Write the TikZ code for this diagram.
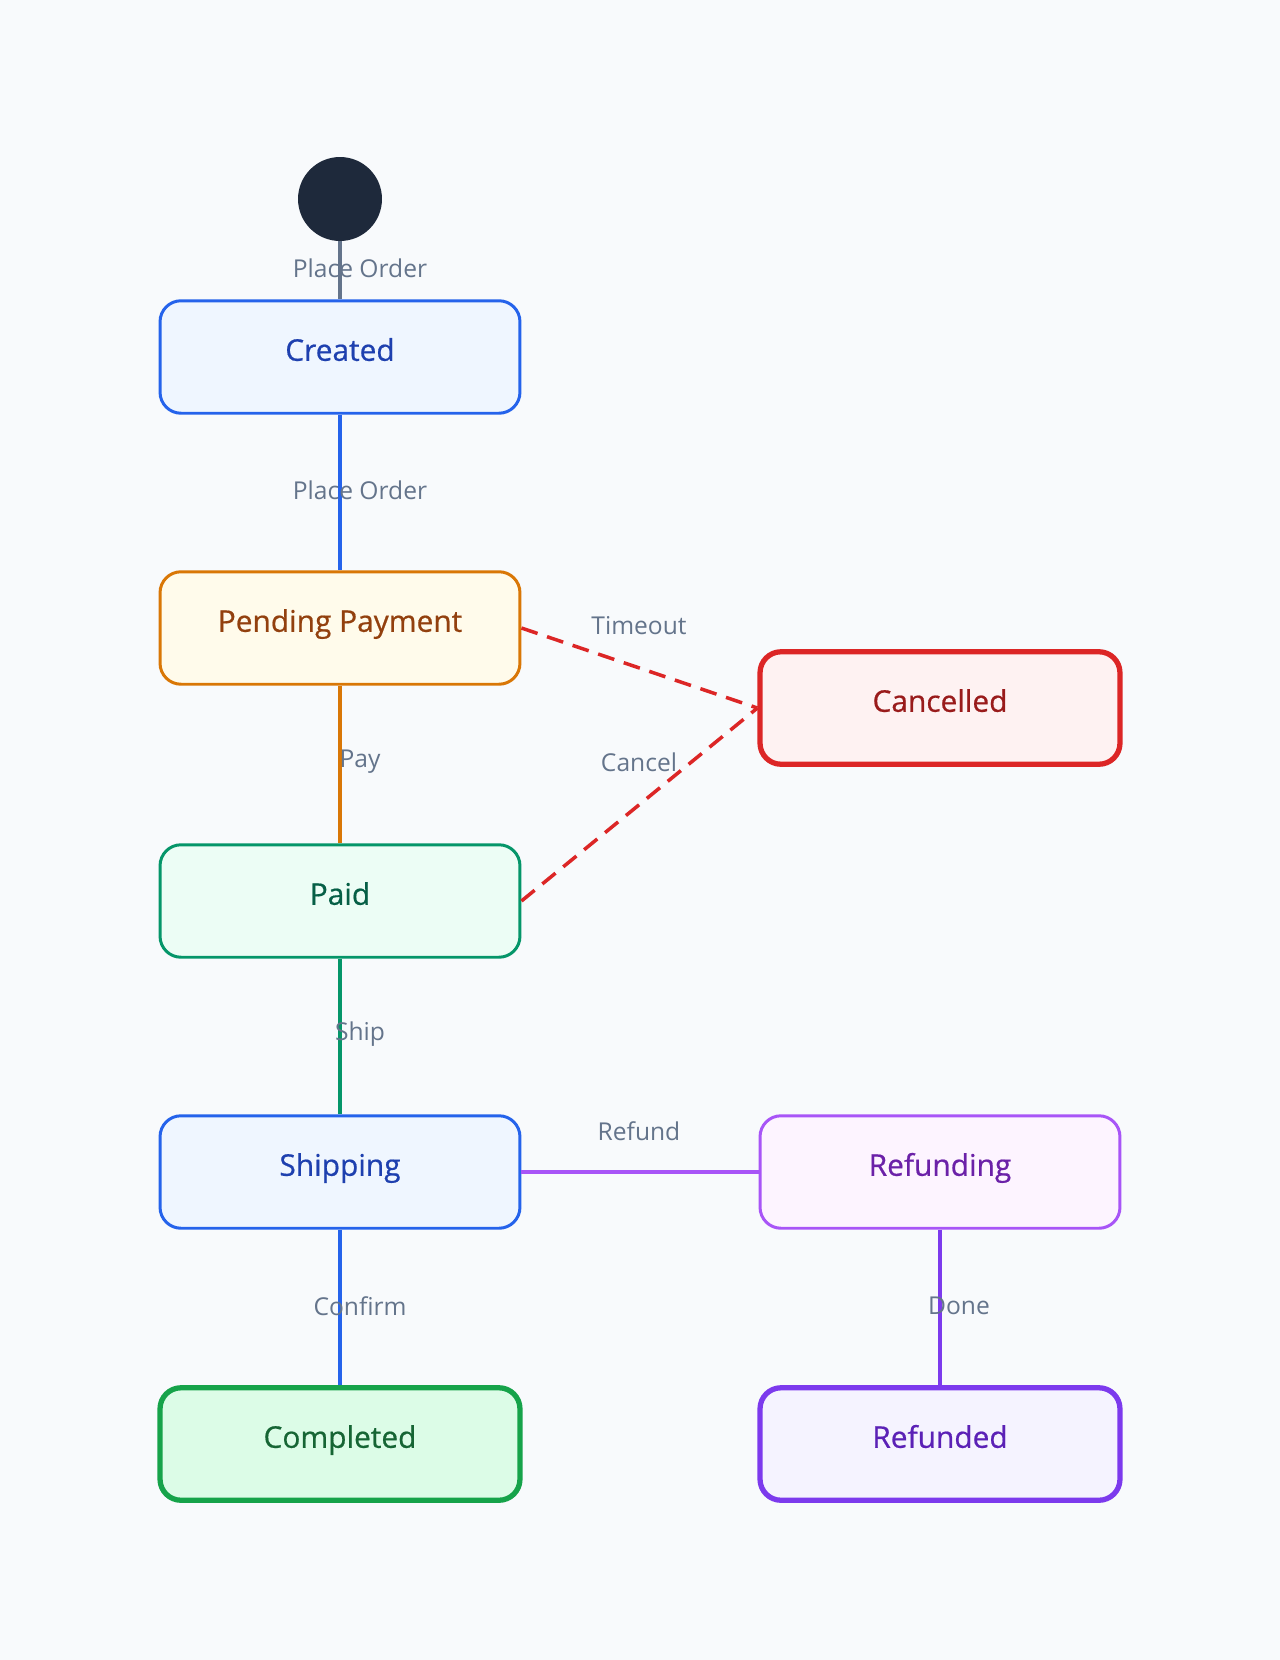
\documentclass[tikz,border=0pt]{standalone}
\usepackage{fontspec}
\setmainfont{Open Sans}
\newfontfamily\statefont[FakeBold=0.6]{Open Sans}
\usetikzlibrary{arrows,calc,shapes}
\tikzset{>=latex}
\definecolor{bgcol}{HTML}{F8FAFC}
\definecolor{startcol}{HTML}{1E293B}
\definecolor{labcol}{HTML}{64748B}
\definecolor{bluedraw}{HTML}{2563EB}
\definecolor{bluefill}{HTML}{EFF6FF}
\definecolor{bluetext}{HTML}{1E40AF}
\definecolor{ambdraw}{HTML}{D97706}
\definecolor{ambfill}{HTML}{FFFBEB}
\definecolor{ambtext}{HTML}{92400E}
\definecolor{teldraw}{HTML}{059669}
\definecolor{telfill}{HTML}{ECFDF5}
\definecolor{teltext}{HTML}{065F46}
\definecolor{reddraw}{HTML}{DC2626}
\definecolor{redfill}{HTML}{FEF2F2}
\definecolor{redtext}{HTML}{991B1B}
\definecolor{grndraw}{HTML}{16A34A}
\definecolor{grnfill}{HTML}{DCFCE7}
\definecolor{grntext}{HTML}{166534}
\definecolor{purdraw}{HTML}{A855F7}
\definecolor{purfill}{HTML}{FDF4FF}
\definecolor{purtext}{HTML}{6B21A8}
\definecolor{vioddraw}{HTML}{7C3AED}
\definecolor{viofill}{HTML}{F5F3FF}
\definecolor{viotext}{HTML}{5B21B6}
\tikzstyle{state}=[rectangle,line width=1.7pt,minimum width=7.2cm,minimum height=2.25cm,rounded corners=0.42cm,text height=0.75em,text depth=0.32em,font=\statefont\fontsize{17}{20}\selectfont]
\tikzstyle{final}=[state,line width=3pt]
\tikzstyle{trans}=[line width=1.9pt]
\tikzstyle{cancel}=[line width=2pt,draw=reddraw,dash pattern=on 0.34cm off 0.2cm]
\tikzstyle{translabel}=[text=labcol,font=\fontsize{14}{16}\selectfont,inner sep=0pt]

\begin{document}
\begin{tikzpicture}[x=0.02cm,y=-0.02cm]
	\fill[bgcol] (0,0) rectangle (1280,1660);
	\useasboundingbox (0,0) rectangle (1280,1660);

	\node[circle,fill=startcol,minimum size=1.68cm,inner sep=0pt] (start) at (340, 199) {};
	\node[state,draw=bluedraw,fill=bluefill,text=bluetext] (created) at (340, 357) {Created};
	\node[state,draw=ambdraw,fill=ambfill,text=ambtext] (pending) at (340, 628) {Pending Payment};
	\node[state,draw=teldraw,fill=telfill,text=teltext] (paid) at (340, 901) {Paid};
	\node[final,draw=reddraw,fill=redfill,text=redtext] (cancelled) at (940, 708) {Cancelled};
	\node[state,draw=bluedraw,fill=bluefill,text=bluetext] (shipping) at (340, 1172) {Shipping};
	\node[state,draw=purdraw,fill=purfill,text=purtext] (refunding) at (940, 1172) {Refunding};
	\node[final,draw=grndraw,fill=grnfill,text=grntext] (completed) at (340, 1444) {Completed};
	\node[final,draw=vioddraw,fill=viofill,text=viotext] (refunded) at (940, 1444) {Refunded};

	\draw[trans,labcol] (start) -- (created);
	\draw[trans,bluedraw] (created) -- (pending);
	\draw[trans,ambdraw] (pending) -- (paid);
	\draw[trans,teldraw] (paid) -- (shipping);
	\draw[trans,bluedraw] (shipping) -- (completed);
	\draw[trans,purdraw] (shipping) -- (refunding);
	\draw[trans,vioddraw] (refunding) -- (refunded);
	\draw[cancel] (pending.east) -- (cancelled.west);
	\draw[cancel] (paid.east) -- (cancelled.west);

	\node[translabel] (lab1) at (360, 268) {Place Order};
	\node[translabel] (lab2) at (360, 490) {Place Order};
	\node[translabel] (lab3) at (360, 762) {Pay};
	\node[translabel] (lab4) at (360, 1034) {Ship};
	\node[translabel] (lab5) at (360, 1306) {Confirm};
	\node[translabel] (lab6) at (959, 1306) {Done};
	\node[translabel] (lab7) at (639, 626) {Timeout};
	\node[translabel] (lab8) at (639, 762) {Cancel};
	\node[translabel] (lab9) at (639, 1131) {Refund};
\end{tikzpicture}
\end{document}
